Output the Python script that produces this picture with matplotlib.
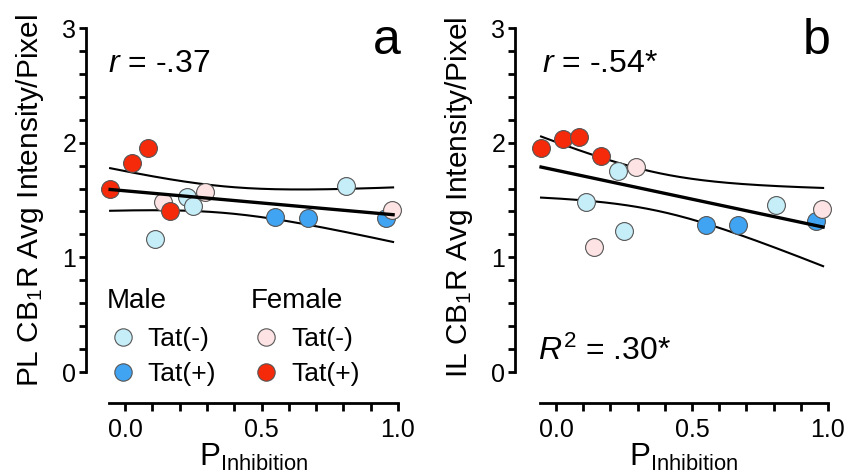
import numpy as np
import matplotlib
matplotlib.use("Agg")
import matplotlib.pyplot as plt
from matplotlib.lines import Line2D
from matplotlib.ticker import FormatStrFormatter
from math import sqrt

plt.rcParams['font.family'] = ['Liberation Sans', 'DejaVu Sans']
plt.rcParams['mathtext.fontset'] = 'custom'
plt.rcParams['mathtext.rm'] = 'Liberation Sans'
plt.rcParams['mathtext.it'] = 'Liberation Sans:italic'
plt.rcParams['mathtext.bf'] = 'Liberation Sans:bold'

# ---- data (P_Inhibition, CB1R intensity) ----
male_neg_x = [0.11, 0.228, 0.25, 0.81]
male_pos_x = [0.551, 0.67, 0.956]
fem_neg_x = [0.14, 0.294, 0.977]
fem_pos_x = [-0.055, 0.026, 0.085, 0.165]

pl_male_neg = [1.16, 1.53, 1.45, 1.62]
pl_male_pos = [1.35, 1.34, 1.34]
pl_fem_neg = [1.48, 1.57, 1.41]
pl_fem_pos = [1.60, 1.82, 1.95, 1.40]

il_male_neg = [1.48, 1.75, 1.23, 1.46]
il_male_pos = [1.28, 1.28, 1.32]
il_fem_neg = [1.09, 1.79, 1.42]
il_fem_pos = [1.95, 2.03, 2.05, 1.88]

panel_labels = ['a', 'b']
r_texts = ['$r$ = -.37', '$r$ = -.54*']
ylabels = ['PL CB$_1$R Avg Intensity/Pixel', 'IL CB$_1$R Avg Intensity/Pixel']
r2_text = '$R^2$ = .30*'
xticks = [0.0, 0.5, 1.0]
yticks = [0, 1, 2, 3]

c_light_blue = '#c6eef9'
c_blue = '#40a4f2'
c_pink = '#fde3e3'
c_red = '#f42a0a'

fig = plt.figure(figsize=(8.5, 4.75), dpi=100)
ax_a = fig.add_axes([86/850, 1-403/475, (398-86)/850, (403-28)/475])
ax_b = fig.add_axes([515/850, 1-403/475, (828-515)/850, (403-28)/475])

datasets = [
    (pl_male_neg, pl_male_pos, pl_fem_neg, pl_fem_pos),
    (il_male_neg, il_male_pos, il_fem_neg, il_fem_pos),
]
xlefts = [(86-125)/272, (515-556)/272]
ybottom = -0.27
xspine = (-0.06, 1.0)

def tcrit(df):
    table = {10: 2.228, 11: 2.201, 12: 2.179, 13: 2.160, 14: 2.145}
    return table.get(df, 2.179)

ms = 165
for i, ax in enumerate([ax_a, ax_b]):
    mn, mp, fn, fp = datasets[i]
    xs = np.array(male_neg_x + male_pos_x + fem_neg_x + fem_pos_x)
    ys = np.array(mn + mp + fn + fp)
    n = len(xs)
    b1, b0 = np.polyfit(xs, ys, 1)
    resid = ys - (b0 + b1 * xs)
    s = sqrt(np.sum(resid**2) / (n - 2))
    sxx = np.sum((xs - xs.mean())**2)
    xx = np.linspace(xs.min(), xs.max() + 0.005, 200)
    yy = b0 + b1 * xx
    half = tcrit(n - 2) * s * np.sqrt(1/n + (xx - xs.mean())**2 / sxx)
    ax.plot(xx, yy + half, color='black', lw=1.5, zorder=2)
    ax.plot(xx, yy - half, color='black', lw=1.5, zorder=2)

    kw = dict(s=ms, edgecolors='#555555', linewidths=0.8, zorder=3, clip_on=False)
    ax.scatter(male_neg_x, mn, c=c_light_blue, **kw)
    ax.scatter(male_pos_x, mp, c=c_blue, **kw)
    ax.scatter(fem_neg_x, fn, c=c_pink, **kw)
    ax.scatter(fem_pos_x, fp, c=c_red, **kw)
    ax.plot(xx, yy, color='black', lw=2.4, zorder=4)

    ax.set_xlim(xlefts[i], 1.0)
    ax.set_ylim(ybottom, 3.0)
    for sp in ['top', 'right']:
        ax.spines[sp].set_visible(False)
    ax.spines['left'].set_bounds(0, 3)
    ax.spines['bottom'].set_bounds(*xspine)
    ax.spines['left'].set_linewidth(2)
    ax.spines['bottom'].set_linewidth(2)
    ax.set_xticks(xticks)
    ax.set_xticks(list(np.arange(0.0, 1.0001, 0.1)), minor=True)
    ax.xaxis.set_major_formatter(FormatStrFormatter('%.1f'))
    ax.set_yticks(yticks)
    ax.set_yticks(list(np.arange(0, 3.0001, 0.2)), minor=True)
    ax.tick_params(axis='x', which='both', length=6, width=2, direction='out', labelsize=18, pad=5)
    ax.tick_params(axis='y', which='both', length=5, width=2, direction='out', labelsize=18, pad=2)
    ax.set_ylabel(ylabels[i], fontsize=21.5, labelpad=12)
    ax.yaxis.label.set_y((1.5 - ybottom) / (3.0 - ybottom) + (0.008 if i == 1 else 0))
    ax.set_xlabel('P$_{\\mathrm{Inhibition}}$', fontsize=22.5, labelpad=0)
    ax.xaxis.label.set_x(((xspine[0] + xspine[1]) / 2 - xlefts[i]) / (1.0 - xlefts[i]))

    ax.text(0.07 if i == 0 else 0.085, 0.905, r_texts[i], transform=ax.transAxes,
            fontsize=23, ha='left', va='center')
    ax.text(1.01, 0.965, panel_labels[i], transform=ax.transAxes,
            fontsize=36, ha='right', va='center')

    if i == 0:
        hl = lambda c: Line2D([], [], marker='o', ls='none', markersize=12.5,
                              markerfacecolor=c, markeredgecolor='#555555', markeredgewidth=0.8)
        common = dict(loc='upper left', frameon=False, fontsize=19, title_fontsize=20,
                      alignment='left', handletextpad=0.35, labelspacing=0.42,
                      borderaxespad=0, handlelength=1.2, borderpad=0.2)
        leg1 = ax.legend([hl(c_light_blue), hl(c_blue)], ['Tat(-)', 'Tat(+)'],
                         title='Male', bbox_to_anchor=(0.05, 0.32), **common)
        leg1._legend_box.sep = 9
        ax.add_artist(leg1)
        leg2 = ax.legend([hl(c_pink), hl(c_red)], ['Tat(-)', 'Tat(+)'],
                         title='Female', bbox_to_anchor=(0.51, 0.32), **common)
        leg2._legend_box.sep = 9
    else:
        ax.text(0.075, 0.115, r2_text, transform=ax.transAxes,
                fontsize=23, ha='left', va='baseline')

fig.savefig('out.png', dpi=100)
